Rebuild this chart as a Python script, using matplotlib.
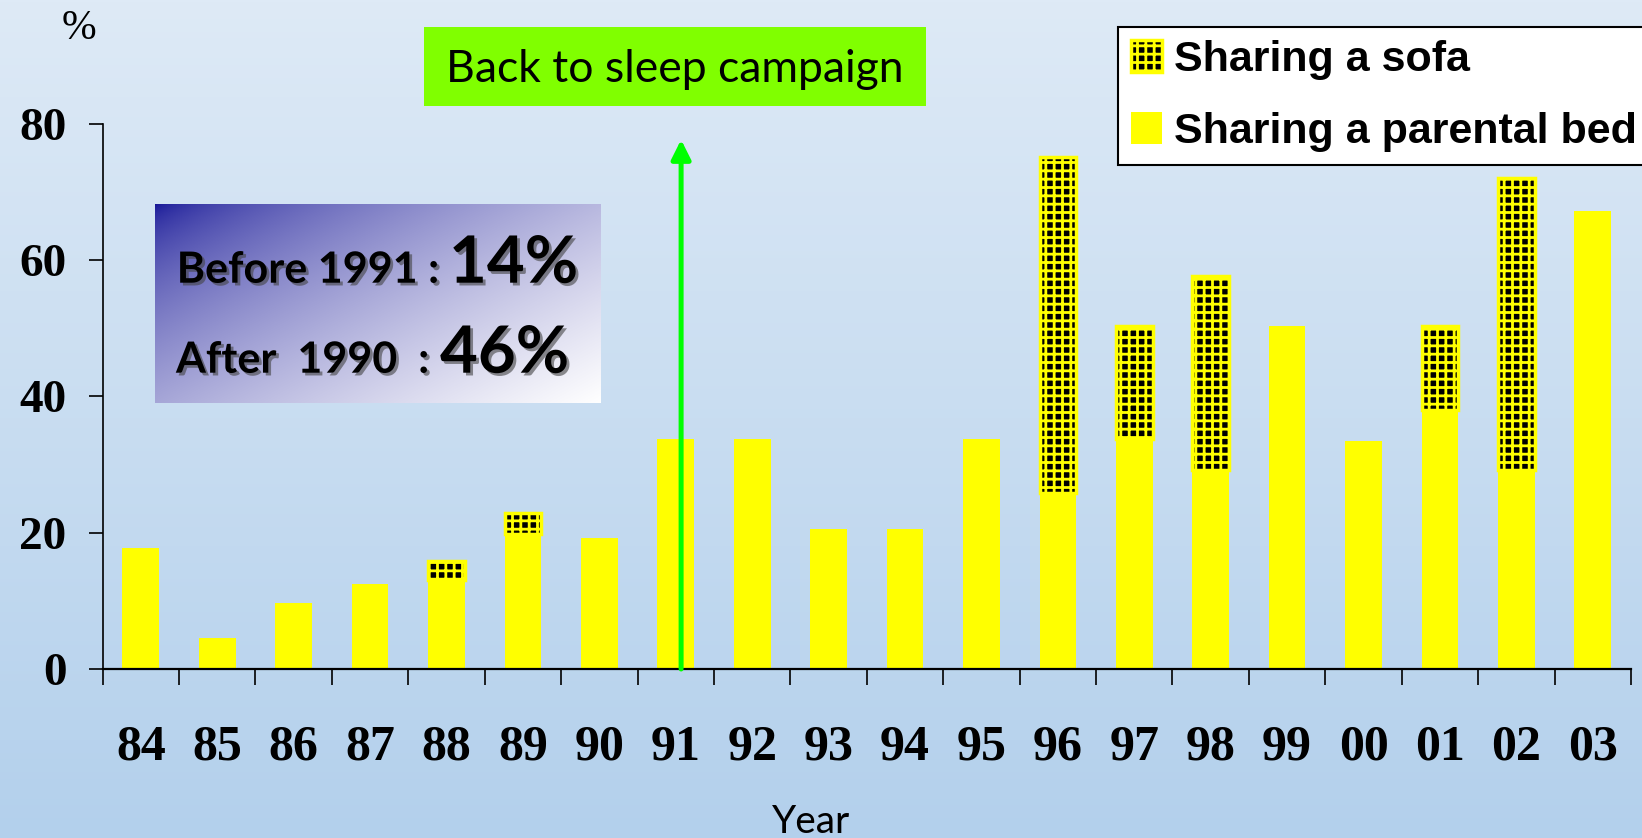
import numpy as np
import matplotlib
matplotlib.use('Agg')
import matplotlib.pyplot as plt
import matplotlib.patches as mpatches
import matplotlib.patheffects as pe

# data ----------------------------------------

years = ['84', '85', '86', '87', '88', '89', '90', '91', '92', '93',
         '94', '95', '96', '97', '98', '99', '00', '01', '02', '03']
bed = [17.8, 4.6, 9.7, 12.5, 13.1, 19.8, 19.2, 33.7, 33.7, 20.5,
       20.5, 33.7, 25.8, 33.8, 29.2, 50.3, 33.4, 38.0, 29.2, 67.2]
sofa = [0, 0, 0, 0, 2.8, 3.1, 0, 0, 0, 0,
        0, 0, 49.4, 16.5, 28.5, 0, 0, 12.3, 42.8, 0]
yticks = [0, 20, 40, 60, 80]
campaign_year = '91'

plt.rcParams['hatch.linewidth'] = 2.0

W, H = 1642, 838
fig = plt.figure(figsize=(W / 100, H / 100), dpi=100)

# light blue background gradient
bg = fig.add_axes([0, 0, 1, 1], zorder=-10)
top = np.array([222, 234, 246]) / 255
bottom = np.array([179, 208, 236]) / 255
t = np.linspace(0, 1, 256)[:, None]
grad = top * (1 - t) + bottom * t
bg.imshow(grad[:, None, :].repeat(2, axis=1), aspect='auto', extent=[0, 1, 0, 1])
bg.axis('off')

# main chart
ax = fig.add_axes([102.6 / W, (H - 669) / H, (1631 - 102.6) / W, (669 - 124) / H])
ax.set_facecolor('none')
x = np.arange(len(years))

bars_bed = ax.bar(x, bed, width=0.48, color='yellow', zorder=2)
sofa_x = [i for i in x if sofa[i] > 0]
bars_sofa = ax.bar(sofa_x, [sofa[i] for i in sofa_x], bottom=[bed[i] for i in sofa_x],
                   width=0.48, facecolor='black', edgecolor='yellow', linewidth=2.5,
                   hatch='++', zorder=2)

ax.set_xlim(-0.5, len(years) - 0.5)
ax.set_ylim(0, 80)
ax.spines['top'].set_visible(False)
ax.spines['right'].set_visible(False)
ax.spines['left'].set_linewidth(1.2)
ax.spines['bottom'].set_linewidth(1.6)

ax.set_yticks(yticks)
ax.set_yticklabels([str(v) for v in yticks], fontsize=34, fontweight='bold',
                   family='Liberation Serif')
ax.tick_params(axis='y', length=10, width=1.2, direction='out', pad=16)

ax.set_xticks(x)
ax.set_xticklabels(years, fontsize=36, fontweight='bold', family='Liberation Serif')
ax.set_xticks(np.arange(-0.5, len(years), 1), minor=True)
ax.tick_params(axis='x', which='major', length=0, pad=40)
ax.tick_params(axis='x', which='minor', length=11.5, width=1.2, direction='out')

# campaign arrow
cx = years.index(campaign_year) + 0.07
ax.annotate('', xy=(cx, 77.7), xytext=(cx, 0),
            arrowprops=dict(arrowstyle='-|>,head_length=0.4,head_width=0.2',
                            color='#00ff00', lw=3.6, mutation_scale=29,
                            shrinkA=0, shrinkB=0), zorder=5)

fig.text(79 / W, 1 - 29 / H, '%', fontsize=30, family='Liberation Serif',
         ha='center', va='center')
fig.text(811 / W, 1 - 833 / H, 'Year', fontsize=28, family='Lato',
         ha='center', va='baseline')

# green campaign label
fig.patches.append(mpatches.Rectangle((423.6 / W, 1 - 105.7 / H), (926 - 423.6) / W,
                                      (105.7 - 26.7) / H, transform=fig.transFigure,
                                      facecolor='#80ff00', edgecolor='none'))
fig.text(446 / W, 1 - 81.7 / H, 'Back to sleep campaign', fontsize=32,
         family='Lato', ha='left', va='baseline')

# before / after box with diagonal gradient
box = fig.add_axes([155 / W, (H - 403) / H, (600 - 155) / W, (403 - 204) / H])
gx, gy = np.meshgrid(np.linspace(0, 1, 300), np.linspace(0, 1, 150))
tt = (0.55 * gx + 0.45 * gy) ** 0.6
navy = np.array([20, 20, 150]) / 255
img = navy * (1 - tt[..., None]) + np.ones(3) * tt[..., None]
box.imshow(img, aspect='auto', extent=[0, 1, 0, 1])
box.set_xlim(0, 1)
box.set_ylim(0, 1)
box.axis('off')

shadow = [pe.SimplePatchShadow(offset=(2, -2), shadow_rgbFace='#444444', alpha=0.6),
          pe.Normal()]
bw, bh = 600 - 155, 403 - 204
box.text((176.7 - 155) / bw, (403 - 282.7) / bh, 'Before 1991 :', fontsize=31,
         fontweight='bold', family='Lato', va='baseline', path_effects=shadow)
box.text((449 - 155) / bw, (403 - 282.7) / bh, '14%', fontsize=47,
         fontweight='bold', family='Lato', va='baseline', path_effects=shadow)
box.text((176 - 155) / bw, (403 - 372.7) / bh, 'After  1990  :', fontsize=31,
         fontweight='bold', family='Lato', va='baseline', path_effects=shadow)
box.text((440 - 155) / bw, (403 - 372.7) / bh, '46%', fontsize=47,
         fontweight='bold', family='Lato', va='baseline', path_effects=shadow)

# legend
leg = fig.legend([bars_sofa, bars_bed], ['Sharing a sofa', 'Sharing a parental bed'],
                 loc='upper left', bbox_to_anchor=(1118 / W, 1 - 27 / H),
                 bbox_transform=fig.transFigure, borderaxespad=0,
                 prop={'family': 'Liberation Sans', 'weight': 'bold', 'size': 31},
                 handlelength=0.72, handleheight=0.78, handletextpad=0.28,
                 labelspacing=0.74, borderpad=0.3, fancybox=False, framealpha=1,
                 edgecolor='black')
leg.get_frame().set_linewidth(1.5)

fig.savefig('out.png', dpi=100)
